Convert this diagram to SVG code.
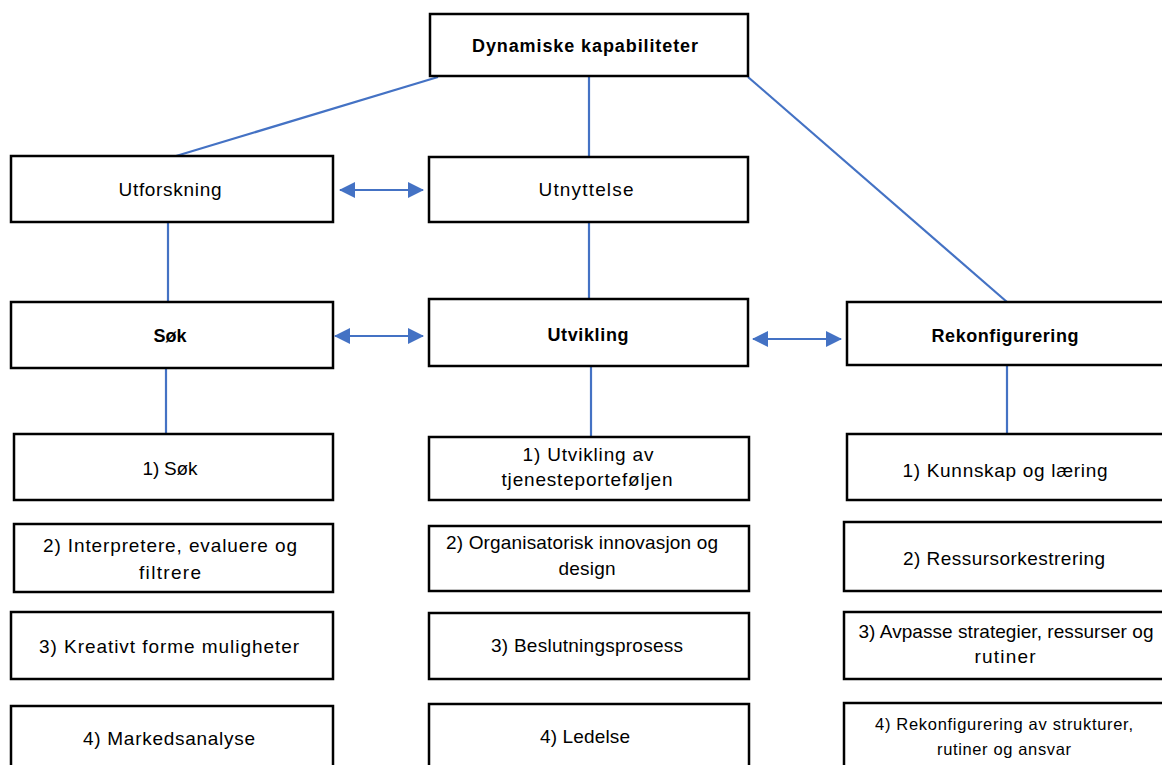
<svg xmlns="http://www.w3.org/2000/svg" width="1162" height="765" viewBox="0 0 1162 765">
<style>
.box{fill:#fff;stroke:#000;stroke-width:2.5}
.t{font-family:"Liberation Sans",Arial,sans-serif;font-size:19px;fill:#000;text-anchor:middle}
.b{font-weight:bold;font-size:18px}
.s{font-size:16.5px}
.c{stroke:#4472C4;stroke-width:2.2;fill:none}
</style>
<defs>
<marker id="ah" markerUnits="userSpaceOnUse" markerWidth="16" markerHeight="16" refX="15" refY="8" orient="auto-start-reverse">
<path d="M0,0 L16,8 L0,16 z" fill="#4472C4"/>
</marker>
</defs>
<rect width="1162" height="765" fill="#fff"/>
<g id="connectors">
<line class="c" x1="438" y1="77" x2="176" y2="156"/>
<line class="c" x1="589" y1="77" x2="589" y2="157"/>
<line class="c" x1="748" y1="77" x2="1007" y2="302"/>
<line class="c" x1="168" y1="222" x2="168" y2="302"/>
<line class="c" x1="589" y1="222" x2="589" y2="299"/>
<line class="c" x1="166" y1="368" x2="166" y2="434"/>
<line class="c" x1="591" y1="366" x2="591" y2="437"/>
<line class="c" x1="1007" y1="365" x2="1007" y2="434"/>
<line class="c" x1="340" y1="190" x2="423" y2="190" marker-start="url(#ah)" marker-end="url(#ah)"/>
<line class="c" x1="335" y1="336" x2="423" y2="336" marker-start="url(#ah)" marker-end="url(#ah)"/>
<line class="c" x1="753" y1="339" x2="841" y2="339" marker-start="url(#ah)" marker-end="url(#ah)"/>
</g>
<g id="dynamiske">
<rect class="box" x="430" y="14" width="318" height="62"/>
<text class="t b" x="585" y="52" textLength="226">Dynamiske kapabiliteter</text>
</g>
<g id="utforskning">
<rect class="box" x="11" y="156" width="322" height="66"/>
<text class="t" x="170" y="196" textLength="103">Utforskning</text>
</g>
<g id="utnyttelse">
<rect class="box" x="429" y="157" width="319" height="65"/>
<text class="t" x="586" y="196" textLength="95">Utnyttelse</text>
</g>
<g id="sok">
<rect class="box" x="11" y="302" width="322" height="66"/>
<text class="t b" x="170" y="342" textLength="33">Søk</text>
</g>
<g id="utvikling">
<rect class="box" x="429" y="299" width="319" height="67"/>
<text class="t b" x="588" y="341" textLength="81">Utvikling</text>
</g>
<g id="rekonfigurering">
<rect class="box" x="847" y="302" width="318" height="63"/>
<text class="t b" x="1005" y="342" textLength="147">Rekonfigurering</text>
</g>
<g id="l1">
<rect class="box" x="14" y="434" width="319" height="66"/>
<text class="t" x="170" y="475" textLength="55">1) Søk</text>
</g>
<g id="l2">
<rect class="box" x="14" y="524" width="319" height="68"/>
<text class="t" x="170" y="552" textLength="254">2) Interpretere, evaluere og</text>
<text class="t" x="170" y="579" textLength="62">filtrere</text>
</g>
<g id="l3">
<rect class="box" x="11" y="612" width="322" height="67"/>
<text class="t" x="169" y="653" textLength="260">3) Kreativt forme muligheter</text>
</g>
<g id="l4">
<rect class="box" x="11" y="706" width="322" height="70"/>
<text class="t" x="169" y="745" textLength="172">4) Markedsanalyse</text>
</g>
<g id="m1">
<rect class="box" x="429" y="437" width="320" height="63"/>
<text class="t" x="588" y="461" textLength="131">1) Utvikling av</text>
<text class="t" x="587" y="486" textLength="171">tjenesteporteføljen</text>
</g>
<g id="m2">
<rect class="box" x="429" y="526" width="320" height="65"/>
<text class="t" x="582" y="549" textLength="272">2) Organisatorisk innovasjon og</text>
<text class="t" x="587" y="575" textLength="57">design</text>
</g>
<g id="m3">
<rect class="box" x="429" y="613" width="320" height="66"/>
<text class="t" x="587" y="652" textLength="192">3) Beslutningsprosess</text>
</g>
<g id="m4">
<rect class="box" x="429" y="704" width="320" height="70"/>
<text class="t" x="585" y="743" textLength="90">4) Ledelse</text>
</g>
<g id="r1">
<rect class="box" x="847" y="434" width="318" height="66"/>
<text class="t" x="1005" y="477" textLength="205">1) Kunnskap og læring</text>
</g>
<g id="r2">
<rect class="box" x="844" y="522" width="321" height="69"/>
<text class="t" x="1004" y="565" textLength="202">2) Ressursorkestrering</text>
</g>
<g id="r3">
<rect class="box" x="844" y="612" width="321" height="67"/>
<text class="t" x="1006" y="638" textLength="295">3) Avpasse strategier, ressurser og</text>
<text class="t" x="1005" y="663" textLength="61">rutiner</text>
</g>
<g id="r4">
<rect class="box" x="844" y="703" width="321" height="70"/>
<text class="t s" x="1004" y="730" textLength="258">4) Rekonfigurering av strukturer,</text>
<text class="t s" x="1004" y="755" textLength="134">rutiner og ansvar</text>
</g>
</svg>
